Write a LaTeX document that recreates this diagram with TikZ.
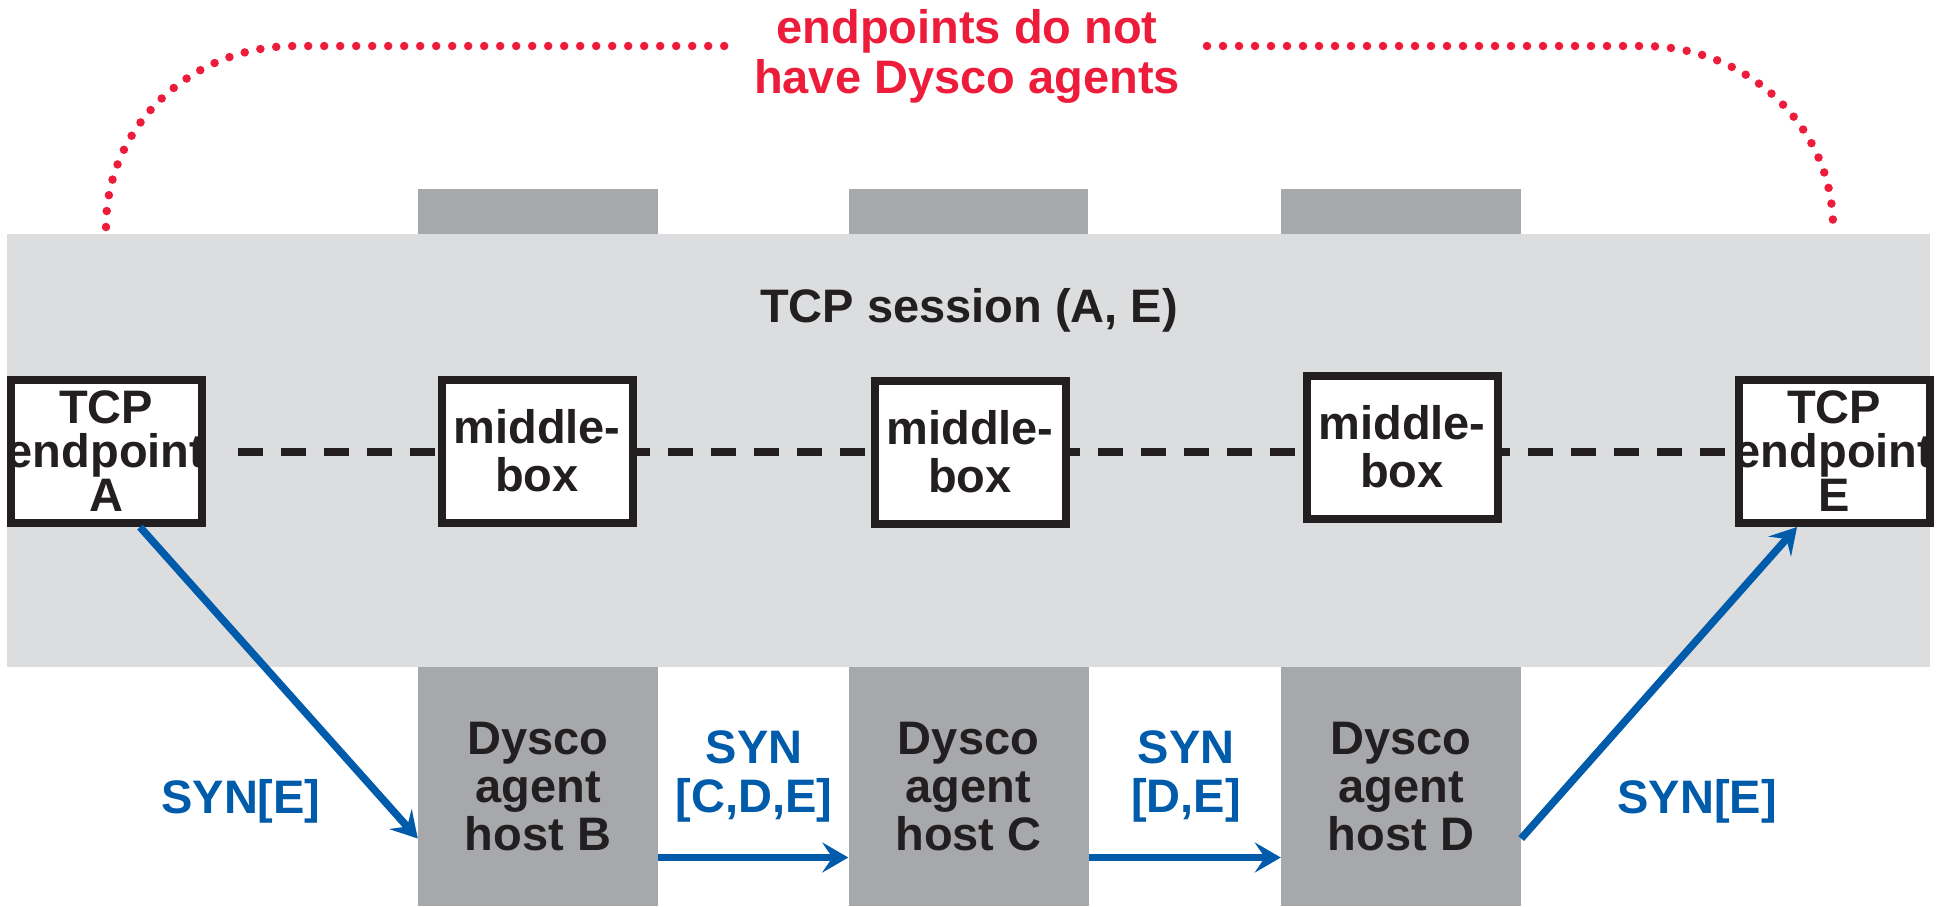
\documentclass[tikz,border=0pt]{standalone}
\usepackage{fontspec}
\setmainfont{Liberation Sans}
\usetikzlibrary{arrows.meta,calc}
\definecolor{bandgray}{HTML}{DCDDDF}
\definecolor{hostgray}{HTML}{A7A8AB}
\definecolor{ink}{HTML}{231F20}
\definecolor{synblue}{HTML}{005BAA}
\definecolor{notered}{HTML}{ED1C3B}
\pgfdeclarelayer{back}
\pgfdeclarelayer{mid}
\pgfsetlayers{back,mid,main}
\begin{document}
\begin{tikzpicture}[x=1pt,y=-1pt,
  txt/.style={font=\bfseries\fontsize{47}{48}\selectfont, text=ink, align=center, inner sep=0pt},
  eptxt/.style={txt, font=\bfseries\fontsize{47}{44}\selectfont},
  wbox/.style={draw=ink, line width=8pt, fill=white, minimum width=191pt, minimum height=143pt, inner sep=0pt},
  host/.style={fill=hostgray, minimum width=240pt, minimum height=239pt, inner sep=0pt, txt},
  syn/.style={font=\bfseries\fontsize{47}{49}\selectfont, text=synblue, align=center, inner sep=0pt},
  synarrow/.style={draw=synblue, line width=7.5pt, -{Stealth[length=26pt,width=30pt,inset=10pt]}},
  session/.style={draw=ink, line width=8pt, dash pattern=on 25pt off 18pt},
  reddots/.style={draw=notered, line width=8.5pt, line cap=round, dash pattern=on 0pt off 16pt},
  note/.style={font=\bfseries\fontsize{47}{50}\selectfont, text=notered, align=center, inner sep=0pt}
]
\useasboundingbox (0,0) rectangle (1946,906);

\begin{pgfonlayer}{back}
  \fill[hostgray] (418,189) rectangle (658,234);
  \fill[hostgray] (849,189) rectangle (1088,234);
  \fill[hostgray] (1281,189) rectangle (1521,234);
  \fill[bandgray] (7,234) rectangle (1930,667);
\end{pgfonlayer}

% hosts
\node[host] (B) at (538,786.5) {Dysco\\agent\\host B};
\node[host] (C) at (968.5,786.5) {Dysco\\agent\\host C};
\node[host] (D) at (1401,786.5) {Dysco\\agent\\host D};

% boxes
\node[wbox, label={[eptxt]center:{TCP\\endpoint\\A}}] (A) at (106,451.5) {};
\node[wbox, label={[txt]center:{middle-\\box}}] (M1) at (537,451) {};
\node[wbox, label={[txt]center:{middle-\\box}}] (M2) at (970,452) {};
\node[wbox, label={[txt]center:{middle-\\box}}] (M3) at (1402,447) {};
\node[wbox, label={[eptxt]center:{TCP\\endpoint\\E}}] (E) at (1834,451.5) {};

\begin{pgfonlayer}{mid}
  \draw[session] ($(A.east)+(32,0)$) -- (E.west);
\end{pgfonlayer}

\node[txt, anchor=base] (title) at (969,322) {TCP session (A, E)};

% note
\node[note] (note) at (967,56) {endpoints do not\\have Dysco agents};
\coordinate (nl) at (106,227);
\coordinate (nr) at (1833,227);
\draw[reddots] (nl) .. controls (106,127) and (190,46) .. (295,46) -- (733,46);
\draw[reddots] (1207,46) -- (1643,46) .. controls (1748,46) and (1833,127) .. (nr);

% SYN labels
\node[syn, anchor=base] (l1) at (241,813) {SYN[E]};
\node[syn] (l2) at (754,776) {SYN\\{}[C,D,E]};
\node[syn] (l3) at (1186,776) {SYN\\{}[D,E]};
\node[syn, anchor=base] (l4) at (1697,813) {SYN[E]};

% arrows
\draw[synarrow] ($(A.south)+(34,0)$) -- ($(B.west)+(0,52)$);
\draw[synarrow] ($(B.east)+(0,71)$) -- ($(C.west)+(0,71)$);
\draw[synarrow] ($(C.east)+(0,71)$) -- ($(D.west)+(0,71)$);
\draw[synarrow] ($(D.east)+(0,52)$) -- ($(E.south)+(-37,0)$);
\end{tikzpicture}
\end{document}
